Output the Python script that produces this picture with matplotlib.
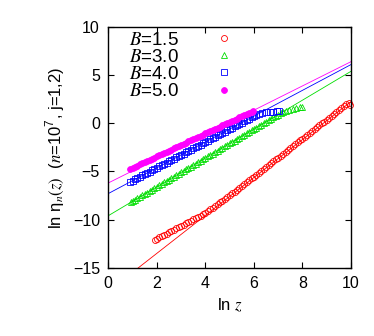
import matplotlib
matplotlib.use("Agg")
import matplotlib.pyplot as plt
import numpy as np

plt.rcParams['font.family'] = ['Liberation Sans', 'DejaVu Sans']
plt.rcParams['mathtext.fontset'] = 'stix'

# B = 1.5 (red, open circles)
x_b15 = [1.92, 2.0, 2.1, 2.2, 2.3, 2.4, 2.5, 2.6, 2.7, 2.8, 2.9, 3.0, 3.1, 3.2, 3.3,
         3.4, 3.5, 3.6, 3.7, 3.8, 3.9, 4.0, 4.1, 4.2, 4.3, 4.4, 4.5, 4.6, 4.7, 4.8,
         4.9, 5.0, 5.1, 5.2, 5.3, 5.4, 5.5, 5.6, 5.7, 5.8, 5.9, 6.0, 6.1, 6.2, 6.3,
         6.4, 6.5, 6.6, 6.7, 6.8, 6.9, 7.0, 7.1, 7.2, 7.3, 7.4, 7.5, 7.6, 7.7, 7.8,
         7.9, 8.0, 8.1, 8.2, 8.3, 8.4, 8.5, 8.6, 8.7, 8.8, 8.9, 9.0, 9.1, 9.2, 9.3,
         9.4, 9.5, 9.6, 9.7, 9.8, 9.9, 9.95]
y_b15 = [-12.10, -11.99, -11.86, -11.72, -11.59, -11.45, -11.32, -11.19, -11.05, -10.92,
         -10.78, -10.65, -10.52, -10.38, -10.25, -10.11, -9.98, -9.85, -9.71, -9.58,
         -9.43, -9.27, -9.10, -8.93, -8.76, -8.58, -8.40, -8.22, -8.04, -7.85,
         -7.66, -7.47, -7.28, -7.09, -6.90, -6.71, -6.52, -6.32, -6.12, -5.92,
         -5.73, -5.53, -5.33, -5.14, -4.94, -4.74, -4.55, -4.35, -4.15, -3.95,
         -3.76, -3.56, -3.36, -3.17, -2.97, -2.77, -2.58, -2.38, -2.18, -1.98,
         -1.79, -1.59, -1.39, -1.20, -1.00, -0.80, -0.61, -0.41, -0.21, -0.01,
         0.18, 0.38, 0.58, 0.77, 0.97, 1.17, 1.37, 1.56, 1.76, 1.95, 2.10, 1.90]

# B = 3.0 (green, open triangles)
x_b30 = [0.95, 1.0, 1.1, 1.2, 1.3, 1.4, 1.5, 1.6, 1.7, 1.8, 1.9, 2.0, 2.1, 2.2, 2.3,
         2.4, 2.5, 2.6, 2.7, 2.8, 2.9, 3.0, 3.1, 3.2, 3.3, 3.4, 3.5, 3.6, 3.7, 3.8,
         3.9, 4.0, 4.1, 4.2, 4.3, 4.4, 4.5, 4.6, 4.7, 4.8, 4.9, 5.0, 5.1, 5.2, 5.3,
         5.4, 5.5, 5.6, 5.7, 5.8, 5.9, 6.0, 6.1, 6.2, 6.3, 6.4, 6.5, 6.6, 6.7, 6.8,
         6.9, 7.0, 7.1, 7.2, 7.3, 7.45, 7.6, 7.75, 7.9, 8.0]
y_b30 = [-8.18, -8.10, -7.95, -7.80, -7.65, -7.50, -7.35, -7.20, -7.05, -6.90,
         -6.75, -6.60, -6.45, -6.30, -6.15, -6.00, -5.85, -5.70, -5.55, -5.40,
         -5.25, -5.10, -4.95, -4.80, -4.65, -4.50, -4.35, -4.20, -4.05, -3.90,
         -3.75, -3.60, -3.45, -3.30, -3.15, -3.00, -2.85, -2.70, -2.55, -2.40,
         -2.25, -2.10, -1.95, -1.80, -1.65, -1.50, -1.35, -1.20, -1.05, -0.90,
         -0.75, -0.60, -0.45, -0.30, -0.15, 0.00, 0.15, 0.30, 0.45, 0.60,
         0.75, 0.90, 1.05, 1.18, 1.30, 1.42, 1.52, 1.60, 1.66, 1.70]

# B = 4.0 (blue, open squares)
x_b40 = [0.9, 1.0, 1.1, 1.2, 1.3, 1.4, 1.5, 1.6, 1.7, 1.8, 1.9, 2.0, 2.1, 2.2, 2.3,
         2.4, 2.5, 2.6, 2.7, 2.8, 2.9, 3.0, 3.1, 3.2, 3.3, 3.4, 3.5, 3.6, 3.7, 3.8,
         3.9, 4.0, 4.1, 4.2, 4.3, 4.4, 4.5, 4.6, 4.7, 4.8, 4.9, 5.0, 5.1, 5.2, 5.3,
         5.4, 5.5, 5.6, 5.7, 5.8, 5.9, 6.0, 6.1, 6.2, 6.35, 6.5, 6.65, 6.8, 6.95, 7.05]
y_b40 = [-6.09, -5.96, -5.83, -5.69, -5.56, -5.42, -5.29, -5.16, -5.02, -4.89,
         -4.75, -4.62, -4.49, -4.35, -4.22, -4.08, -3.95, -3.82, -3.68, -3.55,
         -3.41, -3.28, -3.15, -3.01, -2.88, -2.74, -2.61, -2.48, -2.34, -2.21,
         -2.07, -1.94, -1.81, -1.67, -1.54, -1.40, -1.27, -1.14, -1.00, -0.87,
         -0.73, -0.60, -0.47, -0.33, -0.20, -0.06, 0.07, 0.20, 0.34, 0.47,
         0.61, 0.74, 0.87, 1.00, 1.10, 1.15, 1.20, 1.22, 1.25, 1.30]

# B = 5.0 (magenta, filled circles)
x_b50 = [0.9, 1.0, 1.1, 1.2, 1.3, 1.4, 1.5, 1.6, 1.7, 1.8, 1.9, 2.0, 2.1, 2.2, 2.3,
         2.4, 2.5, 2.6, 2.7, 2.8, 2.9, 3.0, 3.1, 3.2, 3.3, 3.4, 3.5, 3.6, 3.7, 3.8,
         3.9, 4.0, 4.1, 4.2, 4.3, 4.4, 4.5, 4.6, 4.7, 4.8, 4.9, 5.0, 5.1, 5.2, 5.3,
         5.4, 5.5, 5.6, 5.7, 5.8, 5.9, 5.95]
y_b50 = [-4.75, -4.63, -4.51, -4.39, -4.27, -4.16, -4.04, -3.92, -3.80, -3.68,
         -3.56, -3.44, -3.32, -3.20, -3.08, -2.97, -2.85, -2.73, -2.61, -2.49,
         -2.37, -2.25, -2.13, -2.01, -1.89, -1.78, -1.66, -1.54, -1.42, -1.30,
         -1.18, -1.06, -0.94, -0.82, -0.70, -0.59, -0.47, -0.35, -0.23, -0.11,
         0.01, 0.13, 0.25, 0.37, 0.49, 0.60, 0.72, 0.84, 0.96, 1.08, 1.20, 1.26]

# straight-line fits, end points at ln z = 0 and 10
fit_x = [0.0, 10.0]
fit_b15 = [-17.45, 2.25]
fit_b30 = [-9.6, 5.4]
fit_b40 = [-7.3, 6.1]
fit_b50 = [-6.2, 6.4]

labels = [r'$B$=1.5', r'$B$=3.0', r'$B$=4.0', r'$B$=5.0']
colors = ['#ff0000', '#00dd00', '#0000ff', '#ff00ff']

fig = plt.figure(figsize=(3.74, 3.36), dpi=100)
ax = fig.add_axes([0.2896, 0.2033, 0.649, 0.7164])

for fy, c in zip([fit_b15, fit_b30, fit_b40, fit_b50], colors):
    ax.plot(fit_x, fy, '-', color=c, lw=0.6)

ax.plot(x_b15, y_b15, 'o', mfc='none', mec=colors[0], ms=4.3, mew=0.6,
        ls='none', label=labels[0], clip_on=False)
ax.plot(x_b30, y_b30, '^', mfc='none', mec=colors[1], ms=4.3, mew=0.6,
        ls='none', label=labels[1])
ax.plot(x_b40, y_b40, 's', mfc='none', mec=colors[2], ms=4.0, mew=0.6,
        ls='none', label=labels[2])
ax.plot(x_b50, y_b50, 'o', mfc=colors[3], mec=colors[3], ms=4.2, mew=0.6,
        ls='none', label=labels[3])

ax.set_xlim(0, 10)
ax.set_ylim(-15, 10)
ax.set_xticks([0, 2, 4, 6, 8, 10])
ax.set_yticks([-15, -10, -5, 0, 5, 10])
ax.tick_params(direction='in', length=4, width=0.8, top=True, right=True,
               labelsize=11.5, pad=6)
for s in ax.spines.values():
    s.set_linewidth(1.0)

ax.set_xlabel(r'ln $z$', fontsize=12)
ax.set_ylabel(r'ln η$_n(z)$  ($n$=10$^{\mathregular{7}}$, j=1,2)', fontsize=12)

leg = ax.legend(loc='upper left', bbox_to_anchor=(0.03, 1.035), frameon=False,
                markerfirst=False, fontsize=13.5, labelspacing=0.0,
                handlelength=1.6, handletextpad=1.6, borderpad=0.2)

fig.savefig('out.png', dpi=100)
